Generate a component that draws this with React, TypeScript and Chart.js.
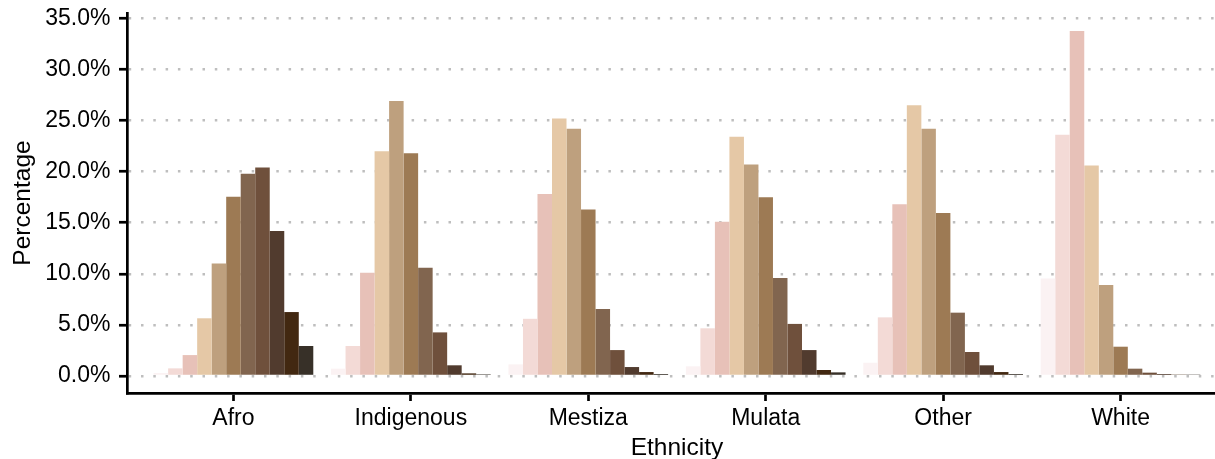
import { useEffect, useRef } from 'react';
import { Chart, registerables } from 'chart.js';

// skin tone groups, lightest (1) to darkest (11)
const categories = ['Afro', 'Indigenous', 'Mestiza', 'Mulata', 'Other', 'White'];
const toneLabels = ['1', '2', '3', '4', '5', '6', '7', '8', '9', '10', '11'];
const toneColors = [
  '#FBF2F3', '#F3DAD6', '#E7C1B8', '#E5C8A6', '#BEA07E', '#9D7A54',
  '#81654F', '#6F503C', '#513B2E', '#422811', '#373028',
];

// percentage per tone, one array per ethnicity
const afroValues = [0.3, 0.75, 2.05, 5.65, 11.0, 17.55, 19.8, 20.4, 14.2, 6.26, 2.94];
const indigenousValues = [0.72, 2.94, 10.1, 22.0, 26.9, 21.8, 10.6, 4.27, 1.05, 0.26, 0.17];
const mestizaValues = [1.14, 5.6, 17.8, 25.2, 24.2, 16.3, 6.55, 2.54, 0.88, 0.39, 0.2];
const mulataValues = [0.95, 4.67, 15.1, 23.4, 20.7, 17.5, 9.6, 5.1, 2.54, 0.59, 0.36];
const otherValues = [1.3, 5.74, 16.8, 26.5, 24.2, 15.95, 6.2, 2.35, 1.05, 0.39, 0.2];
const whiteValues = [9.55, 23.6, 33.75, 20.6, 8.9, 2.87, 0.72, 0.33, 0.2, 0.15, 0.15];

const yTicks = [0, 5, 10, 15, 20, 25, 30, 35];

export default function App() {
  const chartRef = useRef<HTMLCanvasElement>(null);

  useEffect(() => {
    Chart.register(...registerables);

    const byCategory = [afroValues, indigenousValues, mestizaValues, mulataValues, otherValues, whiteValues];
    const datasets = toneLabels.map((label, t) => ({
      label,
      data: byCategory.map((vals, i) => ({ x: i, y: vals[t] })),
      backgroundColor: toneColors[t],
      borderWidth: 0,
      categoryPercentage: 0.9,
      barPercentage: 1.0,
    }));

    const ctx = chartRef.current!.getContext('2d')!;
    const chart = new Chart(ctx, {
      type: 'bar',
      data: { datasets },
      options: {
        animation: false,
        responsive: false,
        layout: { padding: { top: 13, right: 0, bottom: 0, left: 0 } },
        plugins: { legend: { display: false }, tooltip: { enabled: false } },
        scales: {
          x: {
            type: 'linear',
            min: -0.6,
            max: 5.6,
            offset: false,
            afterBuildTicks: (scale: any) => {
              scale.ticks = categories.map((_, i) => ({ value: i }));
            },
            afterFit: (scale: any) => {
              scale.height = 66;
              scale.paddingLeft = 0;
              scale.paddingRight = 0;
            },
            ticks: {
              autoSkip: false,
              maxRotation: 0,
              padding: 4,
              color: '#000',
              font: { family: 'Liberation Sans', size: 23 },
              callback: (v: any) => categories[v],
            },
            grid: {
              offset: false,
              drawOnChartArea: false,
              tickLength: 8,
              tickColor: '#000',
              tickWidth: 2.7,
            },
            border: { display: true, color: '#000', width: 2.7 },
            title: {
              display: true,
              text: 'Ethnicity',
              color: '#000',
              font: { family: 'Liberation Sans', size: 24.5, lineHeight: 1 },
              padding: { top: 0, bottom: -1 },
            },
          },
          y: {
            min: -1.66,
            max: 35.52,
            afterBuildTicks: (scale: any) => {
              scale.ticks = yTicks.map((v) => ({ value: v }));
            },
            afterFit: (scale: any) => {
              scale.width = 127;
              scale.paddingTop = 0;
              scale.paddingBottom = 0;
            },
            ticks: {
              padding: 8.5,
              color: '#000',
              font: { family: 'Liberation Sans', size: 23 },
              callback: (v: any) => Number(v).toFixed(1) + '%',
            },
            grid: {
              color: '#BEBEBE',
              lineWidth: 2.5,
              tickLength: 8,
              tickColor: '#000',
              tickWidth: 2.7,
              tickBorderDash: [],
            },
            border: { display: true, color: '#000', width: 2.7, dash: [2.5, 9.8] },
            title: {
              display: true,
              text: 'Percentage',
              color: '#000',
              font: { family: 'Liberation Sans', size: 24.5, lineHeight: 1 },
              padding: { top: 11, bottom: 0 },
            },
          },
        },
      },
    });

    return () => {
      chart.destroy();
    };
  }, []);

  return (
    <div style={{ position: 'fixed', left: 0, top: 0, width: 1215, height: 459, overflow: 'hidden', background: '#fff' }}>
      <canvas ref={chartRef} width={1227} height={459} style={{ display: 'block' }} />
    </div>
  );
}
